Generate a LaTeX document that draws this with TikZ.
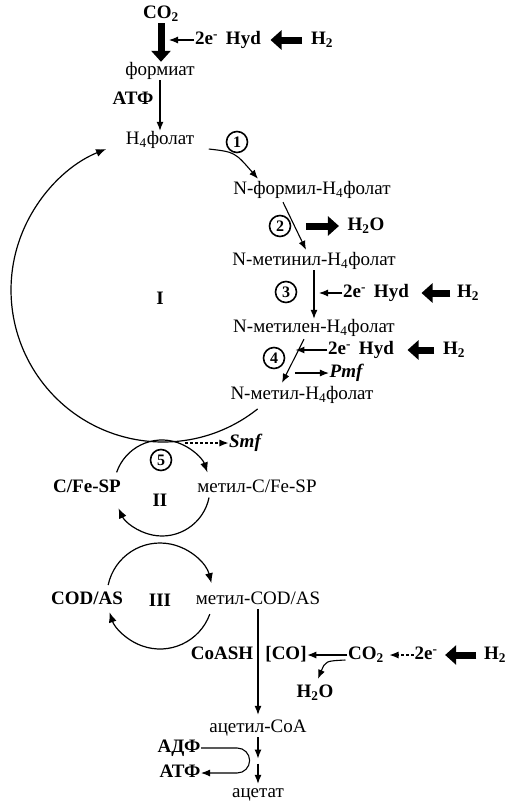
\documentclass[tikz,border=0pt]{standalone}
\usepackage{fontspec}
\setmainfont{Liberation Serif}
\usetikzlibrary{arrows.meta,calc}
\begin{document}
\begin{tikzpicture}[x=1pt,y=-1pt,
  every node/.style={font=\fontsize{19}{21}\selectfont, inner sep=0.5pt, text height=13pt, text depth=4pt},
  bf/.style={font=\fontsize{19}{21}\selectfont\bfseries},
  bi/.style={font=\fontsize{19}{21}\selectfont\bfseries\itshape},
  num/.style={circle,draw,line width=1.6pt,inner sep=0pt,minimum size=21pt,text height=10.5pt,text depth=0pt,font=\fontsize{16}{17}\selectfont\bfseries},
  arr/.style={line width=1.1pt,-{Latex[length=9pt,width=7pt]}},
  fat/.style={line width=7pt,-{Triangle[length=11pt,width=19pt]}},
  ring/.style={line width=1.2pt,-{Latex[length=10pt,width=8pt]}},
]
\useasboundingbox[fill=white] (0,0) rectangle (508,806);

% top
\node[bf] (co2) at (161,14) {CO\textsubscript{2}};
\node (form) at (160,71) {формиат};
\node[bf] (hyd0) at (228,40) {2e\textsuperscript{-}\, Hyd};
\node[bf] (h20) at (322,40) {H\textsubscript{2}};
\node[bf] (atf1) at (133,100) {АТФ};
\node (hf) at (160,140) {H\textsubscript{4}фолат};

\draw[fat] (co2.south) -- (co2.south |- form.north);
\draw[arr] (hyd0.west) -- ($(co2.south |- hyd0.west)+(8,0)$);
\draw[fat] ($(h20.west)+(-8,0)$) -- ($(hyd0.east)+(9,0)$);
\draw[arr] (form.south) -- (hf.north);

% cycle I chain
\node[num] (n1) at (237,142) {1};
\node (nf) at (312,190) {N-формил-H\textsubscript{4}фолат};
\node[num] (n2) at (280,226) {2};
\node[bf] (h2o1) at (366,226) {H\textsubscript{2}O};
\node (nmi) at (314,261) {N-метинил-H\textsubscript{4}фолат};
\node[num] (n3) at (286,292) {3};
\node[bf] (hyd3) at (376,293) {2e\textsuperscript{-}\, Hyd};
\node[bf] (h23) at (468,293) {H\textsubscript{2}};
\node (nme) at (314,328) {N-метилен-H\textsubscript{4}фолат};
\node[num] (n4) at (274,358) {4};
\node[bf] (hyd4) at (361,350) {2e\textsuperscript{-}\, Hyd};
\node[bf] (h24) at (454,350) {H\textsubscript{2}};
\node[bi] (pmf) at (346,373) {Pmf};
\node (nml) at (302,395) {N-метил-H\textsubscript{4}фолат};
\node[bf] (I) at (160,300) {I};

\draw[arr] ($(hf.east)+(14,9)$) .. controls ($(hf.east)+(40,12)$) .. ($(nf.north)+(-54,-2)$);
\draw[arr] ($(nf.south)+(-29,3)$) -- ($(nmi.north)+(-8,-2)$);
\draw[fat] ($(h2o1.west)+(-41,0)$) -- ($(h2o1.west)+(-8,0)$);
\draw[arr] (nmi.south) -- (nmi.south |- nme.north);
\draw[arr] (hyd3.west) -- ($(nmi.south |- hyd3.west)+(5,0)$);
\draw[fat] ($(h23.west)+(-6,0)$) -- ($(hyd3.east)+(12,0)$);
\draw[arr] ($(nme.south)+(-10,2)$) -- ($(nml.north)+(-20,-3)$);
\draw[arr] (hyd4.west) -- ($(hyd4.west)+(-32,0)$);
\draw[fat] ($(h24.west)+(-8,0)$) -- ($(hyd4.east)+(13,0)$);
\draw[arr] ($(pmf.west)+(-34,0)$) -- (pmf.west);

% big circle I
\draw[ring] (163,290) ++(51.5:152) arc[start angle=51.5, end angle=248, radius=152];

% Smf
\node[bi] (smf) at (245,443) {Smf};
\coordinate (smfs) at (185,443);
\draw[arr,densely dashed] (smfs) -- (smf.west);

% cycle II
\node[num] (n5) at (161,460) {5};
\node[bf] (cfe) at (87,488) {C/Fe-SP};
\node (mcfe) at (257,488) {метил-C/Fe-SP};
\node[bf] (II) at (160,502) {II};
\draw[ring] (162,488) ++(199:48) arc[start angle=199, end angle=341, radius=48];
\draw[ring] (162,488) ++(11.5:48) arc[start angle=11.5, end angle=155, radius=48];

% cycle III
\node[bf] (cod) at (87,600) {COD/AS};
\node[bf] (III) at (160,602) {III};
\node (mcod) at (258,600) {метил-COD/AS};
\draw[ring] (160,596) ++(192:53) arc[start angle=192, end angle=346, radius=53];
\draw[ring] (160,596) ++(20:53) arc[start angle=20, end angle=162, radius=53];

% bottom
\node[bf] (coash) at (222,655) {CoASH};
\node[bf] (co) at (286,655) {[CO]};
\node[bf] (co2b) at (366,655) {CO\textsubscript{2}};
\node[bf] (h2ob) at (315,693) {H\textsubscript{2}O};
\node[bf] (e2b) at (426,655) {2e\textsuperscript{-}};
\node[bf] (h2b) at (495,655) {H\textsubscript{2}};
\node (acoa) at (258,728) {ацетил-CoA};
\node[bf] (adf) at (179,748) {АДФ};
\node[bf] (atf2) at (180,773) {АТФ};
\node (acet) at (258,793) {ацетат};

\draw[arr] (mcod.south) -- ($(acoa.north)+(0,-4)$);
\draw[arr] (co2b.west) -- (co.east);
\draw[arr] ($(co2b.west)+(-2,5)$) .. controls ($(co2b.west)+(-22,6)$) .. ($(h2ob.north)+(3,-5)$);
\draw[arr,densely dashed] (e2b.west) -- ($(co2b.east)+(5,0)$);
\draw[fat] ($(h2b.west)+(-7,0)$) -- ($(e2b.east)+(7,0)$);
\draw[arr] (acoa.south) -- ($(acoa.south)!0.5!(acet.north)+(0,-2)$);
\draw[arr] ($(acoa.south)!0.5!(acet.north)+(0,3)$) -- (acet.north);
\draw[arr] (adf.east) -- ($(adf.east)+(36,0)$) arc[start angle=-90, end angle=90, radius=12.5] -- (atf2.east);
\end{tikzpicture}
\end{document}
